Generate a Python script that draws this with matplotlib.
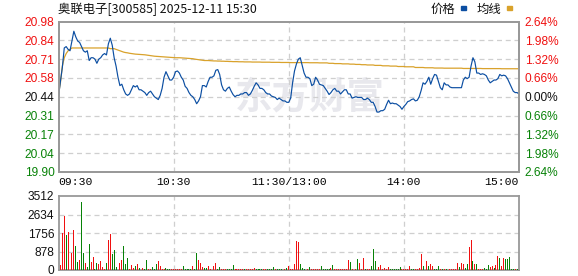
import matplotlib
matplotlib.use('Agg')
import matplotlib.pyplot as plt
from matplotlib.patches import Rectangle
import numpy as np

# ---------------- data ----------------
title = '奥联电子[300585] 2025-12-11 15:30'
pre_close = 20.44
price_labels = ['20.98', '20.84', '20.71', '20.58', '20.44', '20.31', '20.17', '20.04', '19.90']
pct_labels = ['2.64%', '1.98%', '1.32%', '0.66%', '0.00%', '0.66%', '1.32%', '1.98%', '2.64%']
time_labels = ['09:30', '10:30', '11:30/13:00', '14:00', '15:00']
vol_labels = ['3512', '2634', '1756', '878', '0']
price_lo, price_hi = 19.90, 20.98
vol_max = 3512

price = [
    20.44, 20.55, 20.65, 20.79, 20.80, 20.78, 20.77, 20.84, 20.91, 20.87,
    20.84, 20.83, 20.80, 20.77, 20.76, 20.77, 20.70, 20.72, 20.72, 20.71,
    20.68, 20.71, 20.72, 20.74, 20.75, 20.74, 20.82, 20.86, 20.81, 20.72,
    20.66, 20.58, 20.52, 20.53, 20.49, 20.46, 20.45, 20.46, 20.49, 20.52,
    20.51, 20.52, 20.49, 20.49, 20.48, 20.47, 20.45, 20.47, 20.48, 20.46,
    20.44, 20.43, 20.42, 20.45, 20.50, 20.58, 20.62, 20.59, 20.56, 20.56,
    20.58, 20.62, 20.625, 20.61, 20.58, 20.56, 20.515, 20.50, 20.47, 20.45,
    20.44, 20.42, 20.39, 20.41, 20.44, 20.52, 20.52, 20.51, 20.55, 20.58,
    20.58, 20.59, 20.63, 20.635, 20.60, 20.525, 20.49, 20.48, 20.50, 20.51,
    20.48, 20.455, 20.44, 20.45, 20.45, 20.46, 20.46, 20.47, 20.47, 20.45,
    20.46, 20.485, 20.515, 20.54, 20.525, 20.50, 20.50, 20.49, 20.47, 20.46,
    20.46, 20.445, 20.44, 20.435, 20.42, 20.43, 20.42, 20.41, 20.41, 20.40,
    20.40, 20.43, 20.54, 20.625, 20.675, 20.71, 20.72, 20.666, 20.61, 20.58,
    20.58, 20.57, 20.52, 20.53, 20.58, 20.56, 20.53, 20.525, 20.52, 20.50,
    20.48, 20.456, 20.47, 20.49, 20.50, 20.48, 20.48, 20.46, 20.475, 20.49,
    20.49, 20.46, 20.46, 20.43, 20.435, 20.44, 20.435, 20.435, 20.435, 20.42,
    20.42, 20.43, 20.42, 20.40, 20.40, 20.37, 20.33, 20.33, 20.34, 20.34,
    20.35, 20.385, 20.415, 20.39, 20.395, 20.39, 20.39, 20.38, 20.37, 20.35,
    20.37, 20.385, 20.405, 20.41, 20.42, 20.425, 20.41, 20.415, 20.44, 20.485,
    20.54, 20.53, 20.55, 20.58, 20.53, 20.57, 20.60, 20.595, 20.55, 20.505,
    20.49, 20.54, 20.525, 20.525, 20.51, 20.505, 20.505, 20.505, 20.505, 20.505,
    20.505, 20.56, 20.58, 20.57, 20.58, 20.66, 20.72, 20.69, 20.61, 20.61,
    20.60, 20.605, 20.60, 20.59, 20.56, 20.54, 20.55, 20.56, 20.56, 20.57,
    20.60, 20.59, 20.595, 20.59, 20.57, 20.54, 20.51, 20.48, 20.47, 20.47,
    20.46,
]

avg = (
    [20.46, 20.54, 20.66, 20.72, 20.75, 20.77, 20.78]
    + [20.79] * 20
    + [20.785] * 3
    + [20.78, 20.775, 20.77, 20.765, 20.76, 20.757, 20.755, 20.752, 20.75, 20.748,
       20.746, 20.745, 20.744, 20.743, 20.742, 20.741, 20.739, 20.737, 20.735, 20.733,
       20.731, 20.730, 20.729, 20.728, 20.727, 20.726, 20.725, 20.724, 20.723, 20.722,
       20.721]
    + [20.72, 20.72, 20.72, 20.719, 20.718, 20.717, 20.716, 20.715, 20.714, 20.713]
    + [20.71, 20.708, 20.706, 20.704, 20.702, 20.70, 20.70, 20.70, 20.699, 20.698]
    + [20.697, 20.697, 20.696, 20.696, 20.695, 20.695, 20.694, 20.694, 20.693, 20.693,
       20.692, 20.692, 20.692, 20.691, 20.691, 20.691, 20.690, 20.690, 20.690, 20.690]
    + [20.689] * 5 + [20.688] * 5 + [20.687] * 5 + [20.686] * 5
    + [20.685] * 10 + [20.684] * 5 + [20.683] * 5
    + [20.68] * 3 + [20.678] * 4 + [20.676] * 4 + [20.674] * 3 + [20.672] * 3 + [20.67] * 3
    + [20.668] * 4 + [20.665] * 4 + [20.662] * 4 + [20.66] * 4 + [20.657] * 4
    + [20.655] * 5 + [20.65] * 5 + [20.648] * 5 + [20.646] * 5
    + [20.645] * 10 + [20.643] * 10 + [20.642] * 10 + [20.641] * 10
)

volume = [
    0, 237, 1738, 2560, 1659, 1785, 948, 790, 1896, 1138,
    395, 474, 3239, 822, 316, 158, 1232, 363, 632, 47,
    316, 284, 427, 158, 47, 316, 1422, 1706, 758, 948,
    158, 948, 316, 474, 1138, 284, 585, 47, 237, 111,
    190, 284, 111, 111, 111, 47, 474, 47, 47, 158,
    47, 284, 427, 190, 47, 47, 79, 47, 47, 47,
    47, 47, 47, 47, 47, 190, 47, 47, 47, 47,
    190, 47, 790, 474, 316, 158, 79, 79, 190, 47,
    47, 190, 316, 47, 158, 47, 47, 47, 47, 47,
    47, 237, 47, 47, 47, 47, 47, 47, 47, 47,
    47, 47, 95, 47, 47, 47, 47, 47, 47, 47,
    47, 47, 158, 47, 47, 47, 47, 237, 47, 111,
    205, 47, 47, 284, 1375, 1327, 284, 111, 47, 47,
    47, 142, 47, 47, 47, 47, 47, 190, 47, 47,
    47, 47, 95, 237, 47, 47, 47, 47, 47, 47,
    47, 474, 379, 47, 47, 47, 521, 332, 47, 569,
    47, 47, 47, 190, 995, 427, 47, 142, 237, 47,
    95, 47, 142, 47, 47, 47, 47, 47, 142, 47,
    47, 47, 47, 190, 47, 47, 47, 47, 95, 758,
    190, 332, 427, 190, 284, 190, 47, 47, 190, 47,
    47, 47, 47, 47, 47, 47, 47, 47, 332, 142,
    332, 284, 95, 284, 1090, 1422, 427, 284, 284, 47,
    47, 47, 95, 47, 237, 142, 190, 95, 237, 664,
    569, 190, 569, 521, 521, 616, 47, 47, 47, 47,
    664,
]

vol_up = [
    1, 1, 1, 1, 0, 1, 0, 1, 1, 0,
    0, 1, 0, 0, 1, 0, 0, 1, 1, 0,
    0, 1, 1, 1, 1, 0, 1, 1, 0, 0,
    0, 0, 1, 1, 0, 0, 0, 1, 1, 1,
    0, 1, 0, 0, 1, 0, 0, 1, 1, 0,
    0, 0, 1, 1, 1, 1, 0, 0, 0, 1,
    1, 1, 1, 1, 1, 0, 0, 0, 0, 0,
    1, 0, 0, 1, 1, 1, 0, 0, 1, 1,
    0, 1, 1, 0, 0, 1, 1, 1, 0, 0,
    0, 0, 1, 1, 1, 1, 1, 0, 1, 1,
    1, 1, 1, 0, 0, 0, 0, 1, 1, 0,
    0, 0, 0, 1, 0, 0, 0, 1, 1, 0,
    1, 1, 1, 1, 1, 1, 0, 0, 0, 0,
    1, 0, 1, 1, 1, 1, 1, 0, 0, 0,
    0, 0, 1, 0, 1, 1, 1, 1, 1, 1,
    1, 1, 0, 1, 1, 1, 0, 1, 1, 1,
    0, 1, 1, 0, 0, 0, 1, 1, 1, 1,
    1, 1, 1, 0, 0, 0, 0, 0, 0, 1,
    1, 1, 1, 1, 0, 0, 1, 1, 1, 1,
    0, 1, 1, 0, 1, 1, 0, 0, 0, 1,
    0, 1, 0, 0, 1, 1, 1, 1, 1, 0,
    1, 1, 0, 0, 1, 1, 0, 1, 0, 1,
    1, 1, 0, 0, 0, 1, 1, 0, 1, 1,
    0, 1, 1, 0, 0, 0, 0, 0, 1, 0,
    0,
]

# ---------------- styles ----------------
W, H = 578, 276
RED = '#f01010'
GREEN = '#078207'
GRID = '#cfcfcf'
SPINE = '#999999'
BLUE = '#0b4ea2'
GOLD = '#d9a22b'
num_font = ['Liberation Sans', 'DejaVu Sans']
mono_font = ['Liberation Mono', 'DejaVu Sans Mono']
cjk_font = ['Noto Sans CJK SC', 'DejaVu Sans']

fig = plt.figure(figsize=(W / 100, H / 100), dpi=100)
fig.patch.set_facecolor('white')

L, R = 58.5, 519.0
ax = fig.add_axes([L / W, 1 - 172 / H, (R - L) / W, 150.5 / H])
axv = fig.add_axes([L / W, 1 - 270 / H, (R - L) / W, 74 / H])

n = len(price)
x = np.arange(n)
xmax = n - 1
div_x = np.linspace(0, xmax, len(time_labels))

# watermark
ax.text(0.545, 0.49, '东方财富', transform=ax.transAxes, ha='center', va='center',
        fontsize=27, fontweight='bold', color='#e8e8ed', family=cjk_font, zorder=0)

# ---- price panel ----
ax.plot(x, avg, color=GOLD, lw=0.9, zorder=3)
ax.plot(x, price, color=BLUE, lw=0.85, zorder=4)
ax.set_xlim(0, xmax)
ax.set_ylim(price_lo, price_hi)
yt = np.linspace(price_hi, price_lo, len(price_labels))
for y in yt[1:-1]:
    ax.axhline(y, color=GRID, lw=0.9, ls=(0, (4, 3)), zorder=1)
for xv in div_x[1:-1]:
    ax.axvline(xv, color=GRID, lw=0.9, ls=(0, (4, 3)), zorder=1)

ax.set_yticks(yt)
ax.set_yticklabels(price_labels, family=num_font, fontsize=8.6)
mid = len(price_labels) // 2
for k, lbl in enumerate(ax.get_yticklabels()):
    lbl.set_color(RED if k < mid else ('#111111' if k == mid else GREEN))
ax.tick_params(axis='y', length=0, pad=3)

ax.set_xticks(div_x)
ax.set_xticklabels(time_labels, family=mono_font, fontsize=8.2)
for lbl, ha in zip(ax.get_xticklabels(), ['left', 'center', 'center', 'center', 'right']):
    lbl.set_ha(ha)
ax.tick_params(axis='x', length=0, pad=3.5)

axr = ax.twinx()
axr.set_ylim(price_lo, price_hi)
axr.set_yticks(yt)
axr.set_yticklabels(pct_labels, family=num_font, fontsize=8.6)
for k, lbl in enumerate(axr.get_yticklabels()):
    lbl.set_color(RED if k < mid else ('#111111' if k == mid else GREEN))
axr.tick_params(axis='y', length=0, pad=4)

for a in (ax, axr):
    for s in a.spines.values():
        s.set_color(SPINE)
        s.set_linewidth(1.3)

# ---- volume panel ----
colors = [RED if u else GREEN for u in vol_up]
axv.bar(x, volume, width=0.5, color=colors, zorder=3)
axv.set_xlim(0, xmax)
axv.set_ylim(0, vol_max)
vt = np.linspace(vol_max, 0, len(vol_labels))
for y in vt[1:-1]:
    axv.axhline(y, color=GRID, lw=0.9, ls=(0, (4, 3)), zorder=1)
for xv in div_x[1:-1]:
    axv.axvline(xv, color=GRID, lw=0.9, ls=(0, (4, 3)), zorder=1)
axv.set_yticks(vt)
axv.set_yticklabels(vol_labels, family=num_font, fontsize=8.6, color='#111111')
axv.tick_params(axis='y', length=0, pad=3)
axv.set_xticks([])
for s in axv.spines.values():
    s.set_color(SPINE)
    s.set_linewidth(1.3)

# ---- title & legend ----
fig.text(58.5 / W, 1 - 9 / H, title, ha='left', va='center', fontsize=8.9,
         family=cjk_font, color='#111111')
fig.text(431 / W, 1 - 9 / H, '价格', ha='left', va='center', fontsize=8.9,
         family=cjk_font, color='#111111')
fig.text(477 / W, 1 - 9 / H, '均线', ha='left', va='center', fontsize=8.9,
         family=cjk_font, color='#111111')
fig.patches.append(Rectangle((461 / W, 1 - 10 / H), 5 / W, 3.5 / H,
                             transform=fig.transFigure, color=BLUE, figure=fig))
fig.patches.append(Rectangle((507 / W, 1 - 10 / H), 5 / W, 3.5 / H,
                             transform=fig.transFigure, color=GOLD, figure=fig))

fig.savefig('out.png', dpi=100, facecolor='white')
